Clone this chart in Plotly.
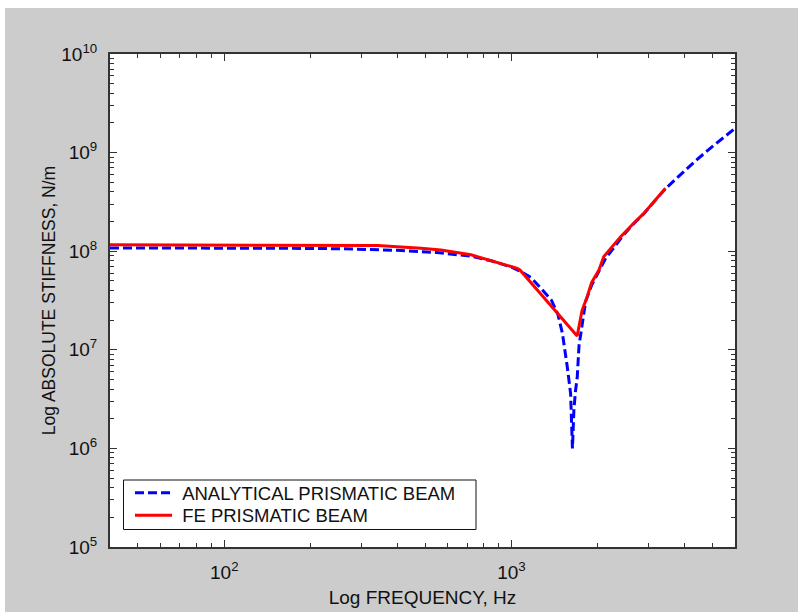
import plotly.graph_objects as go

# Analytical prismatic beam: frequency (Hz) and absolute stiffness (N/m)
freq_analytical = [40, 60, 100, 160, 250, 400, 550, 720, 850, 1000, 1080, 1170,
                   1240, 1376, 1450, 1504, 1564, 1606, 1630, 1649, 1670, 1694,
                   1718, 1812, 1900, 2018, 2128, 2268, 2450, 2663, 2888, 3200,
                   3436, 4000, 4432, 5000, 6000]
stiff_analytical = [1.08e8, 1.08e8, 1.075e8, 1.07e8, 1.06e8, 1.02e8, 9.7e7, 8.9e7,
                    8.0e7, 6.9e7, 6.2e7, 5.4e7, 4.5e7, 3.2e7, 2.3e7, 1.47e7,
                    6.7e6, 3.6e6, 1.0e6, 2.45e6, 3.8e6, 5.3e6, 1.1e7, 3.1e7,
                    4.5e7, 6.2e7, 8.5e7, 1.08e8, 1.45e8, 1.9e8, 2.4e8, 3.4e8,
                    4.3e8, 6.5e8, 8.55e8, 1.15e9, 1.76e9]

# Finite element prismatic beam
freq_fe = [40, 166, 170, 342, 484, 568, 722, 1047, 1070, 1693, 1760, 1837, 1900,
           2018, 2094, 2399, 2663, 2888, 3436]
stiff_fe = [1.16e8, 1.16e8, 1.14e8, 1.14e8, 1.07e8, 1.03e8, 9.2e7, 6.7e7, 6.45e7,
            1.38e7, 2.5e7, 3.5e7, 4.8e7, 6.5e7, 8.8e7, 1.40e8, 1.92e8, 2.42e8,
            4.35e8]

x_ticks = [100, 1000]
x_ticktext = ["10<sup>2</sup>", "10<sup>3</sup>"]
y_ticks = [1e5, 1e6, 1e7, 1e8, 1e9, 1e10]
y_ticktext = ["10<sup>5</sup>", "10<sup>6</sup>", "10<sup>7</sup>",
              "10<sup>8</sup>", "10<sup>9</sup>", "10<sup>10</sup>"]

x_minor = [50, 60, 70, 80, 90, 200, 300, 400, 500, 600, 700, 800, 900,
           2000, 3000, 4000, 5000]
y_minor = [m * 10 ** e for e in range(5, 10) for m in range(2, 10)]

FONT = "Liberation Sans, Arial, sans-serif"
AXIS_COLOR = "#333333"
TEXT_COLOR = "#111111"
NBSP = "\u00a0"

fig = go.Figure()
fig.add_trace(go.Scatter(
    x=freq_analytical, y=stiff_analytical, mode="lines",
    name=NBSP + "ANALYTICAL PRISMATIC BEAM", legend="legend",
    line=dict(color="#0000ff", width=3, dash="9px,4px"),
))
fig.add_trace(go.Scatter(
    x=freq_fe, y=stiff_fe, mode="lines",
    name=NBSP + "FE PRISMATIC BEAM", legend="legend2",
    line=dict(color="#ff0000", width=3),
))

W, H = 798, 612
L, R, T, B = 110, 63, 54, 65
pw, ph = W - L - R, H - T - B

def px_x(p):
    return (p - L) / pw

def px_y(p):
    return (H - B - p) / ph

# grey page background with a thin white rim on top and left, white plot area
fig.add_shape(type="rect", xref="paper", yref="paper",
              x0=px_x(5), x1=px_x(W + 5), y0=px_y(H + 5), y1=px_y(8),
              fillcolor="#cccccc", line_width=0, layer="below")
fig.add_shape(type="rect", xref="paper", yref="paper",
              x0=0, x1=1, y0=0, y1=1,
              fillcolor="white", line_width=0, layer="below")
# legend frame
fig.add_shape(type="rect", xref="paper", yref="paper",
              x0=px_x(123.5), x1=px_x(476), y0=px_y(529.5), y1=px_y(480),
              fillcolor="white", line=dict(color=TEXT_COLOR, width=1),
              layer="above")

axis_common = dict(
    type="log", showgrid=False, zeroline=False,
    showline=True, linecolor=AXIS_COLOR, linewidth=2, mirror="ticks",
    ticks="inside", ticklen=7, tickwidth=1.3, tickcolor=AXIS_COLOR,
    tickfont=dict(family=FONT, size=19, color=TEXT_COLOR),
)

legend_common = dict(
    xanchor="left", yanchor="middle",
    bgcolor="rgba(0,0,0,0)", borderwidth=0,
    font=dict(family=FONT, size=18.5, color=TEXT_COLOR),
    itemwidth=37,
)

fig.update_layout(
    width=W, height=H,
    margin=dict(l=L, r=R, t=T, b=B, autoexpand=False),
    paper_bgcolor="white", plot_bgcolor="white",
    font=dict(family=FONT, color=TEXT_COLOR),
    xaxis=dict(
        **axis_common,
        range=[1.60206, 3.77815],
        tickmode="array", tickvals=x_ticks, ticktext=x_ticktext,
        ticklabelstandoff=7,
        minor=dict(tickmode="array", tickvals=x_minor, ticks="inside",
                   ticklen=4, tickwidth=1.2, tickcolor=AXIS_COLOR),
        title=dict(text="Log FREQUENCY, Hz",
                   font=dict(family=FONT, size=19, color=TEXT_COLOR),
                   standoff=9),
    ),
    yaxis=dict(
        **axis_common,
        range=[5, 10],
        tickmode="array", tickvals=y_ticks, ticktext=y_ticktext,
        ticklabelstandoff=7,
        minor=dict(tickmode="array", tickvals=y_minor, ticks="inside",
                   ticklen=4, tickwidth=1.2, tickcolor=AXIS_COLOR),
        title=dict(text="Log ABSOLUTE STIFFNESS, N/m",
                   font=dict(family=FONT, size=17.5, color=TEXT_COLOR),
                   standoff=1),
    ),
    legend=dict(**legend_common, x=px_x(130), y=px_y(493.3)),
    legend2=dict(**legend_common, x=px_x(130), y=px_y(515.7)),
    showlegend=True,
)

fig.write_html("out.html")
